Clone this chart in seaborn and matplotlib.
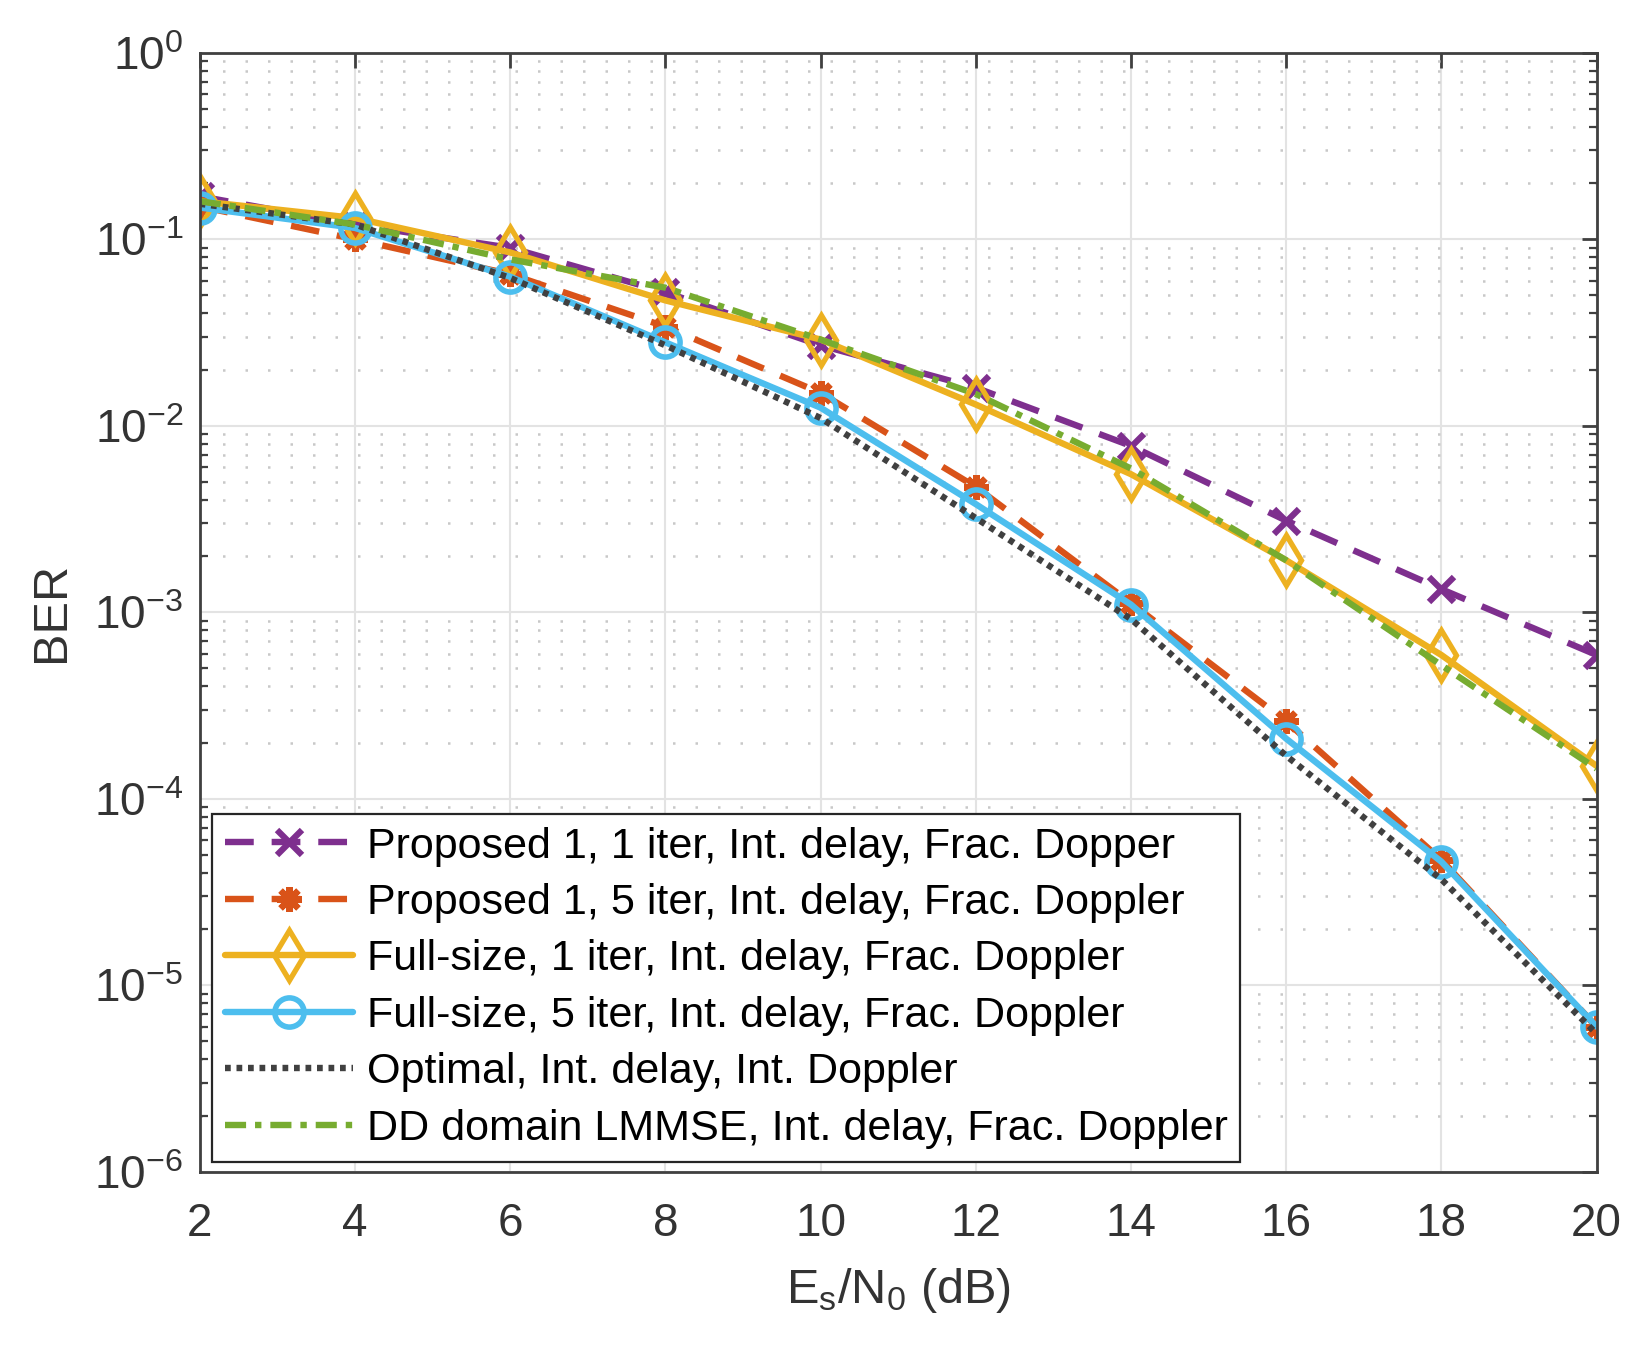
import numpy as np
import pandas as pd
import seaborn as sns
import matplotlib
matplotlib.use("Agg")
import matplotlib.pyplot as plt
from matplotlib.ticker import LogLocator, LogFormatterSciNotation, NullFormatter

# ---------------- data ----------------
snr_db = [2, 4, 6, 8, 10, 12, 14, 16, 18, 20]
ber_prop1_1iter = [0.17, 0.12, 0.090, 0.052, 0.027, 0.016, 0.0078, 0.0031, 0.00133, 0.00059]
ber_prop1_5iter = [0.15, 0.100, 0.065, 0.034, 0.015, 0.0047, 0.00112, 0.00026, 4.7e-5, 6.0e-6]
ber_full_1iter = [0.16, 0.13, 0.085, 0.047, 0.029, 0.013, 0.0055, 0.0019, 0.00059, 0.00015]
ber_full_5iter = [0.148, 0.115, 0.063, 0.028, 0.0125, 0.0038, 0.0011, 0.00021, 4.6e-5, 6.0e-6]
ber_optimal = [0.155, 0.12, 0.062, 0.027, 0.011, 0.0032, 0.00092, 0.00017, 3.7e-5, 5.5e-6]
ber_lmmse = [0.16, 0.12, 0.078, 0.055, 0.029, 0.0148, 0.0059, 0.0019, 0.00052, 0.000145]

labels = [
    "Proposed 1, 1 iter, Int. delay, Frac. Dopper",
    "Proposed 1, 5 iter, Int. delay, Frac. Doppler",
    "Full-size, 1 iter, Int. delay, Frac. Doppler",
    "Full-size, 5 iter, Int. delay, Frac. Doppler",
    "Optimal, Int. delay, Int. Doppler",
    "DD domain LMMSE, Int. delay, Frac. Doppler",
]
xticks = [2, 4, 6, 8, 10, 12, 14, 16, 18, 20]

# ---------------- style ----------------
sns.set_theme(style="white")
plt.rcParams['font.family'] = ['Liberation Sans', 'DejaVu Sans']
plt.rcParams['mathtext.fontset'] = 'custom'
plt.rcParams['mathtext.rm'] = 'Liberation Sans'
plt.rcParams['mathtext.it'] = 'Liberation Sans:italic'
plt.rcParams['mathtext.bf'] = 'Liberation Sans:bold'

fig = plt.figure(figsize=(16.51, 13.53), dpi=100)
ax = fig.add_axes([0.121, 0.134, 0.846, 0.827])

series = [
    (ber_prop1_1iter, "#7E2F8E", (0, (4.5, 2.8)), "x", 18, 4.5),
    (ber_prop1_5iter, "#D95319", (0, (4.5, 2.8)), (8, 2, 0), 18, 4.5),
    (ber_full_1iter, "#EDB120", "-", "d", 25, 3.8),
    (ber_full_5iter, "#4DBEEE", "-", "o", 21, 4.0),
    (ber_optimal, "#404040", (0, (0.9, 0.9)), None, 0, 0),
    (ber_lmmse, "#77AC30", (0, (3.3, 1.4, 1.0, 1.4)), None, 0, 0),
]

for (vals, col, ls, mk, ms, mew), lab in zip(series, labels):
    df = pd.DataFrame({"snr": snr_db, "ber": vals})
    kw = dict(color=col, linewidth=4.6, linestyle=ls, label=lab, ax=ax)
    if mk is not None:
        kw.update(marker=mk, markersize=ms, markeredgewidth=mew,
                  markerfacecolor="none", markeredgecolor=col)
    sns.lineplot(data=df, x="snr", y="ber", **kw)

ax.set_yscale("log")
ax.set_xlim(2, 20)
ax.set_ylim(1e-6, 1)
ax.set_xticks(xticks)
ax.yaxis.set_major_locator(LogLocator(base=10, numticks=10))
ax.yaxis.set_minor_locator(LogLocator(base=10, subs=np.arange(2, 10), numticks=20))
ax.yaxis.set_major_formatter(LogFormatterSciNotation())
ax.yaxis.set_minor_formatter(NullFormatter())

ax.grid(True, which="major", color="#e3e3e3", linewidth=1.5, linestyle="-")
ax.grid(True, which="minor", axis="y", color="#c8c8c8", linewidth=1.8, linestyle=(0, (1, 8)))
ax.set_axisbelow(True)

for s in ax.spines.values():
    s.set_color("#404040")
    s.set_linewidth(2)
ax.tick_params(axis="x", which="major", pad=22)
ax.tick_params(axis="y", which="major", pad=12)
ax.tick_params(axis="both", which="major", direction="in", length=11, width=2,
               colors="#404040", labelsize=33, top=True, right=True)
ax.tick_params(axis="y", which="minor", direction="in", length=6, width=1.6,
               colors="#404040", right=True, left=True)
for lbl in ax.get_xticklabels() + ax.get_yticklabels():
    lbl.set_color("#333333")

ax.set_xlabel(r"E$_\mathrm{s}$/N$_\mathrm{0}$ (dB)", fontsize=35, color="#333333", labelpad=14)
ax.set_ylabel("BER", fontsize=35, color="#333333", labelpad=14)

leg = ax.legend(loc="lower left", bbox_to_anchor=(0.009, 0.009), fontsize=31.1,
                frameon=True, fancybox=False, edgecolor="#262626", framealpha=1,
                handlelength=2.95, handletextpad=0.32, labelspacing=0.38,
                borderpad=0.3, borderaxespad=0.0)
leg.get_frame().set_linewidth(1.6)
for t in leg.get_texts():
    t.set_color("black")

fig.savefig("out.png", dpi=100, facecolor="white")
